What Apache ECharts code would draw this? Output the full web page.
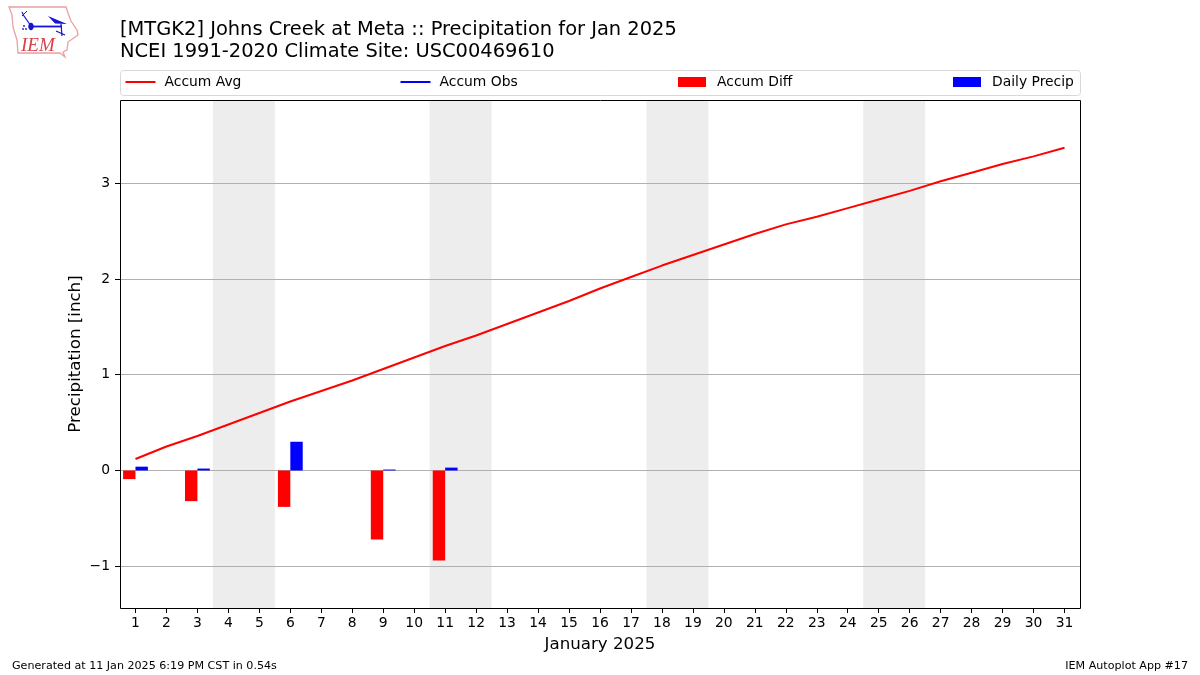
<!DOCTYPE html>
<html><head><meta charset="utf-8">
<style>html,body{margin:0;padding:0;background:#fff}#c{width:1200px;height:675px}</style>
<script src="https://cdn.jsdelivr.net/npm/echarts@6/dist/echarts.min.js"></script>
</head><body><div id="c"></div>
<script>
const days = Array.from({length:31},(_,i)=>String(i+1));
const accumAvg = [0.12,0.25,0.36,0.48,0.60,0.72,0.83,0.94,1.06,1.18,1.30,1.41,1.53,1.65,1.77,1.90,2.02,2.14,2.25,2.36,2.47,2.57,2.65,2.74,2.83,2.92,3.02,3.11,3.20,3.28,3.37];
const accumDiff = [-0.09,null,-0.32,null,null,-0.38,null,null,-0.72,null,-0.94,null,null,null,null,null,null,null,null,null,null,null,null,null,null,null,null,null,null,null,null];
const dailyPrecip = [0.04,null,0.02,null,null,0.30,null,null,0.01,null,0.03,null,null,null,null,null,null,null,null,null,null,null,null,null,null,null,null,null,null,null,null];
const accumObs = [];
const weekends = [['4','5'],['11','12'],['18','19'],['25','26']];
const titleLines = '[MTGK2] Johns Creek at Meta :: Precipitation for Jan 2025\nNCEI 1991-2020 Climate Site: USC00469610';
const font = '"DejaVu Sans"';
const legendText = pad => ({fontFamily:font,fontSize:13.89,color:'#000',padding:[0,0,0,pad]});
const blue = '#1414d2';
const chart = echarts.init(document.getElementById('c'),null,{renderer:'canvas'});
chart.setOption({
  animation:false,
  textStyle:{fontFamily:font},
  title:[
    {text:titleLines,left:120,top:19,padding:0,textStyle:{fontFamily:font,fontSize:19.44,fontWeight:'normal',color:'#000',lineHeight:22}},
    {text:'Generated at 11 Jan 2025 6:19 PM CST in 0.54s',left:12,top:661,padding:0,textStyle:{fontFamily:font,fontSize:11.11,fontWeight:'normal',color:'#000'}},
    {text:'IEM Autoplot App #17',right:12,top:661,padding:0,textStyle:{fontFamily:font,fontSize:11.11,fontWeight:'normal',color:'#000'}}
  ],
  legend:[
    {left:124.5,top:75,padding:0,itemWidth:30,itemHeight:10,textStyle:legendText(4),data:[{name:'Accum Avg',itemStyle:{opacity:0}}]},
    {left:399.5,top:75,padding:0,itemWidth:30,itemHeight:10,textStyle:legendText(4),data:[{name:'Accum Obs',itemStyle:{opacity:0}}]},
    {left:678,top:75,padding:0,itemWidth:28,itemHeight:10,textStyle:legendText(6),data:[{name:'Accum Diff',icon:'rect'}]},
    {left:953,top:75,padding:0,itemWidth:28,itemHeight:10,textStyle:legendText(6),data:[{name:'Daily Precip',icon:'rect'}]}
  ],
  grid:{left:120,width:960,top:100,height:508,show:false,containLabel:false},
  xAxis:{
    type:'category',data:days,boundaryGap:true,
    name:'January 2025',nameLocation:'middle',nameGap:28,
    nameTextStyle:{fontFamily:font,fontSize:16.67,color:'#000'},
    axisLine:{show:false,onZero:false},
    axisTick:{show:true,alignWithLabel:true,length:5,lineStyle:{color:'#000'}},
    axisLabel:{interval:0,color:'#000',fontSize:13.89,fontFamily:font,margin:8},
    splitLine:{show:false}
  },
  yAxis:{
    type:'value',min:-1.436,max:3.869,interval:1,
    name:'Precipitation [inch]',nameLocation:'middle',nameGap:36,nameMoveOverlap:false,
    nameTextStyle:{fontFamily:font,fontSize:16.67,color:'#000'},
    axisLine:{show:false},
    axisTick:{show:true,length:5,lineStyle:{color:'#000'},customValues:[-1,0,1,2,3]},
    axisLabel:{color:'#000',fontSize:13.89,fontFamily:font,margin:10,padding:[2,0,0,0],customValues:[-1,0,1,2,3],
      formatter:v=>String(v).replace('-','\u2212')},
    splitLine:{show:true,lineStyle:{color:'#b0b0b0',width:1}}
  },
  series:[
    {name:'Weekend',type:'custom',z:-1,silent:true,data:weekends,encode:{x:[0,1],y:-1},
     clip:true,
     renderItem:(p,api)=>{
       const a=api.coord([api.value(0),0]);const b=api.coord([api.value(1),0]);const w=api.size([1,0])[0];
       return {type:'rect',shape:{x:a[0]-w/2,y:p.coordSys.y,width:b[0]-a[0]+w,height:p.coordSys.height},style:{fill:'#ededed'}};
     }},
    {name:'Accum Diff',type:'bar',data:accumDiff,barWidth:12.4,barGap:0,itemStyle:{color:'#ff0000'}},
    {name:'Daily Precip',type:'bar',data:dailyPrecip,barWidth:12.4,barGap:0,itemStyle:{color:'#0000ff'}},
    {name:'Accum Avg',type:'line',data:accumAvg,symbol:'none',z:5,lineStyle:{color:'#ff0000',width:2},itemStyle:{color:'#ff0000'}},
    {name:'Accum Obs',type:'line',data:accumObs,symbol:'none',z:5,lineStyle:{color:'#0000ff',width:2},itemStyle:{color:'#0000ff'}}
  ],
  graphic:[
    {type:'rect',silent:true,z:10,shape:{x:120.5,y:100.5,width:960,height:508},style:{fill:null,stroke:'#000',lineWidth:1}},
    {type:'rect',silent:true,z:-5,shape:{x:120.5,y:70.5,width:960,height:25,r:3},style:{fill:'#fff',stroke:'#d8d8d8',lineWidth:1}},
    {type:'polygon',silent:true,shape:{points:[[9,7],[66,7],[68,13],[71,21],[77,30],[78,35],[68,42],[67,50],[63,52],[65,57],[60,53],[18,53],[17,40],[13,27],[12,15]]},style:{fill:'#fff',stroke:'#e9a0a0',lineWidth:1.3}},
    {type:'polyline',silent:true,shape:{points:[[31,26.5],[62,26.5]]},style:{stroke:blue,lineWidth:1.8,fill:null}},
    {type:'polyline',silent:true,shape:{points:[[31,26],[24,16],[22,12]]},style:{stroke:blue,lineWidth:1.2,fill:null}},
    {type:'polyline',silent:true,shape:{points:[[22,16],[27,11]]},style:{stroke:blue,lineWidth:1,fill:null}},
    {type:'polyline',silent:true,shape:{points:[[61,24],[62,36]]},style:{stroke:blue,lineWidth:1.2,fill:null}},
    {type:'polyline',silent:true,shape:{points:[[56,31],[65,35]]},style:{stroke:blue,lineWidth:1.2,fill:null}},
    {type:'polygon',silent:true,shape:{points:[[48,16],[55,19],[67,24],[55,23.5]]},style:{fill:blue}},
    {type:'ellipse',silent:true,shape:{cx:31,cy:26.5,rx:2.7,ry:3.7},style:{fill:blue}},
    {type:'circle',silent:true,shape:{cx:24,cy:26,r:0.9},style:{fill:blue}},
    {type:'circle',silent:true,shape:{cx:23,cy:29,r:0.9},style:{fill:blue}},
    {type:'circle',silent:true,shape:{cx:26,cy:29,r:0.9},style:{fill:blue}},
    {type:'text',silent:true,left:21,top:36,style:{text:'IEM',font:'italic 19px "Liberation Serif"',fill:'#d8404a'}}
  ]
});
</script></body></html>
